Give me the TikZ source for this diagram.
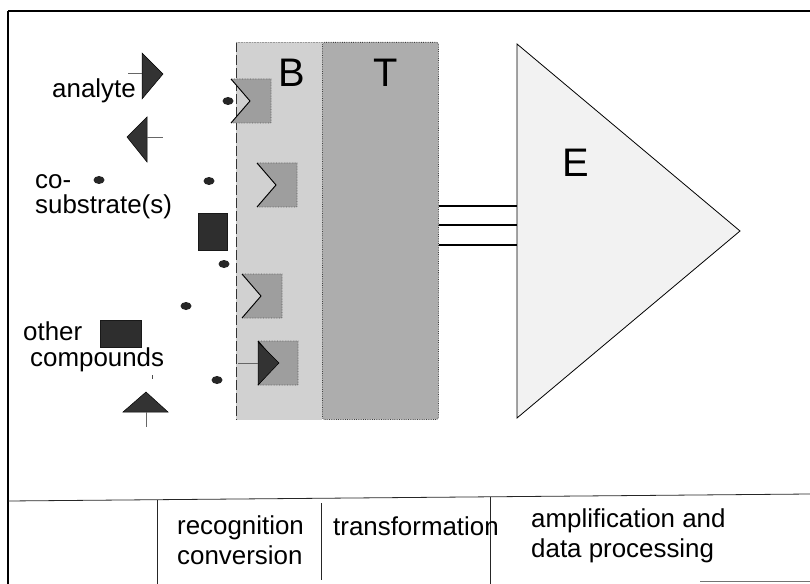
\documentclass[tikz,border=0pt]{standalone}
\usepackage{fontspec}
\setmainfont{Liberation Sans}
\begin{document}
\begin{tikzpicture}[x=1bp,y=-1bp,
  lbl/.style={font=\fontsize{26}{30}\selectfont, inner sep=0pt, anchor=base west},
  big/.style={font=\fontsize{40}{44}\selectfont, inner sep=0pt},
  frameline/.style={draw=black, line width=1.2bp},
  sepline/.style={draw=black!85, line width=0.8bp},
  dot/.style={fill=black!85, draw=none},
  darkbox/.style={fill=black!82, draw=black!90, line width=0.5bp},
  ligand/.style={fill=black!80, draw=black, line width=0.5bp},
  stick/.style={draw=black!60, line width=0.7bp},
  receptor/.pic={
    \path[fill=black!38, draw=black!65, line width=0.6bp, densely dotted]
      (0,0) -- (40,0) -- (40,44) -- (0,44) -- (19,22) -- cycle;
    \draw[black, line width=0.9bp] (0,0) -- (19,22) -- (0,44);
  }]
\useasboundingbox (0,0) rectangle (810,584);

% outer frame and the strip of captions underneath
\draw[frameline, line width=1.8bp] (8,11) -- (810,11);
\draw[frameline] (8,11) -- (8,584);
\coordinate (sepL) at (8,501);
\coordinate (sepR) at (810,494);
\draw[sepline] (sepL) -- (sepR);
\draw[sepline] (157,500) -- (157,584);
\draw[sepline] (321,503) -- (321,580);
\draw[sepline] (490,497) -- (490,584);
\draw[draw=black!55, line width=0.9bp] (700,581) -- (810,581);

% B: biorecognition layer
\node[fill=black!18, draw=none, minimum width=86bp, minimum height=378bp, inner sep=0pt, anchor=north west]
  (B) at (236,42) {};
\draw[black!80, line width=0.8bp, dashed, dash pattern=on 10bp off 3bp] (B.north west) -- (B.south west);
\draw[black!40, line width=0.6bp, densely dotted] (B.north west) -- (B.north east);
\node[big] (Blab) at (292,73) {B};

% T: transducer
\node[fill=black!32, draw=black!75, densely dotted, line width=0.8bp, rounded corners=2bp,
      minimum width=116bp, minimum height=377bp, inner sep=0pt, anchor=north west]
  (T) at (322,42) {};
\node[big] (Tlab) at (386,73) {T};

% E: electronics (amplifier)
\coordinate (Etop) at (517,44);
\coordinate (Etip) at (740,231);
\coordinate (Ebot) at (517,418);
\draw[fill=black!5, draw=black, line width=0.8bp] (Etop) -- (Etip) -- (Ebot) -- cycle;
\node[big] (Elab) at (576,163) {E};

% leads from T to E
\foreach \yy in {206,225,245}
  \draw[black, line width=1.3bp] (T.east |- 0,\yy) -- (Etop |- 0,\yy);

% receptors in the B layer
\pic at (231,79) {receptor};
\pic at (257,163) {receptor};
\pic at (242,274) {receptor};
\pic at (258,341) {receptor};
% analyte bound in the last receptor
\coordinate (boundA) at (258,342);
\coordinate (boundB) at (279,363);
\coordinate (boundC) at (258,385);
\draw[ligand] (boundA) -- (boundB) -- (boundC) -- cycle;
\coordinate (boundS) at (238,363);
\draw[stick] (boundS) -- (boundA |- boundB);

% free species in solution
\coordinate (a1) at (142,53);
\coordinate (a2) at (163,74);
\coordinate (a3) at (142,99);
\draw[ligand] (a1) -- (a2) -- (a3) -- cycle;
\coordinate (a1s) at (128,73);
\draw[stick] (a1s) -- (a1 |- a1s);

\coordinate (b1) at (147,117);
\coordinate (b2) at (127,137);
\coordinate (b3) at (147,162);
\draw[ligand] (b1) -- (b2) -- (b3) -- cycle;
\coordinate (b2s) at (163,137);
\draw[stick] (b1 |- b2s) -- (b2s);

\coordinate (c1) at (123,412);
\coordinate (c2) at (146,392);
\coordinate (c3) at (168,412);
\draw[ligand] (c1) -- (c2) -- (c3) -- cycle;
\coordinate (c2s) at (146,427);
\draw[stick] (c2 |- c1) -- (c2s);
\draw[black!70, line width=0.6bp] (152,375) -- (152,379);

\foreach \px/\py in {228/101, 99/180, 209/181, 224/264, 186/306, 217/380}
  \fill[dot] (\px,\py) ellipse [x radius=5.5bp, y radius=4bp];

\draw[darkbox] (198,213) rectangle (227,250);
\draw[darkbox] (100,320) rectangle (141,347);

% labels
\node[lbl] (analyte) at (52,98) {analyte};
\node[lbl] (co) at (35,189) {co-};
\node[lbl] (subst) at (35,214) {substrate(s)};
\node[lbl] (other) at (23,340) {other};
\node[lbl] (comp) at (30,366) {compounds};

\node[lbl] (rec) at (177,534) {recognition};
\node[lbl] (conv) at (177,564) {conversion};
\node[lbl] (trans) at (333,535) {transformation};
\node[lbl] (ampl) at (531,527) {amplification and};
\node[lbl] (data) at (531,557) {data processing};
\end{tikzpicture}
\end{document}
